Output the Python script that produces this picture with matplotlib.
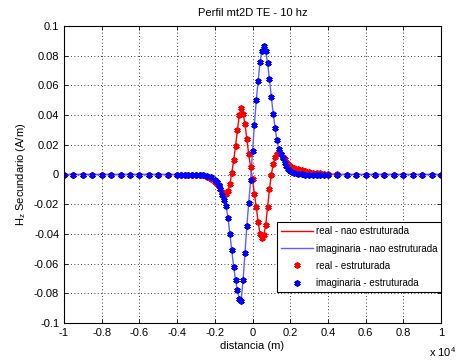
import matplotlib
matplotlib.use("Agg")
import matplotlib.pyplot as plt
import numpy as np

plt.rcParams['font.family'] = ['Liberation Sans', 'DejaVu Sans']
plt.rcParams['mathtext.fontset'] = 'custom'
plt.rcParams['mathtext.rm'] = 'Liberation Sans'

# distancia (m) - nos da malha
x = [-10000, -9500, -9000, -8500, -8000, -7500, -7000, -6500, -6000, -5500, -5000, -4500,
     -4000, -3800, -3600, -3400, -3200, -3000, -2800, -2600, -2400, -2200,
     -2000, -1900, -1800, -1700, -1600, -1500, -1400, -1300, -1200, -1100,
     -1000, -900, -800, -700, -600, -500, -400, -300, -200, -100,
     0, 100, 200, 300, 400, 500, 600, 700, 800, 900,
     1000, 1100, 1200, 1300, 1400, 1500, 1600, 1700, 1800, 1900,
     2000, 2200, 2400, 2600, 2800, 3000, 3200, 3400, 3600, 3800,
     4000, 4500, 5000, 5500, 6000, 6500, 7000, 7500, 8000, 8500, 9000, 9500, 10000]

# parte real de Hz
hz_real = [0, 0, 0, 0, 0, 0, 0, 0, 0, 0, 0, 0,
           -0.0001, -0.0001, -0.0001, -0.0002, -0.0002, -0.0003, -0.0004, -0.0006, -0.0015, -0.003,
           -0.005, -0.0062, -0.0075, -0.0095, -0.0115, -0.0128, -0.0128, -0.011, -0.0065, 0.001,
           0.0095, 0.019, 0.030, 0.040, 0.0445, 0.041, 0.034, 0.024, 0.0135, 0.005,
           -0.003, -0.013, -0.022, -0.032, -0.040, -0.043, -0.041, -0.034, -0.022, -0.010,
           0.0, 0.007, 0.0115, 0.0138, 0.0143, 0.0135, 0.012, 0.0102, 0.0085, 0.007,
           0.0058, 0.0045, 0.0036, 0.0028, 0.0021, 0.0017, 0.0013, 0.001, 0.0007, 0.0005,
           0.0003, 0.0001, 0, 0, 0, 0, 0, 0, 0, 0, 0, 0, 0]

# parte imaginaria de Hz
hz_imag = [0, 0, 0, 0, 0, 0, 0, 0, 0, 0, 0, 0,
           0, 0, 0, 0, 0, -0.0001, -0.0002, -0.0005, -0.001, -0.002,
           -0.0035, -0.005, -0.007, -0.010, -0.0135, -0.0175, -0.0215, -0.029, -0.040, -0.051,
           -0.062, -0.071, -0.078, -0.084, -0.085, -0.071, -0.053, -0.035, -0.019, -0.004,
           0.0155, 0.033, 0.050, 0.063, 0.076, 0.083, 0.0865, 0.083, 0.075, 0.064,
           0.052, 0.041, 0.031, 0.023, 0.017, 0.0138, 0.011, 0.008, 0.0058, 0.004,
           0.0025, 0.0008, 0.0003, 0.0001, 0, 0, 0, 0, 0, 0,
           0, 0, 0, 0, 0, 0, 0, 0, 0, 0, 0, 0, 0]

xticks = [-10000, -8000, -6000, -4000, -2000, 0, 2000, 4000, 6000, 8000, 10000]
xticklabels = ['-1', '-0.8', '-0.6', '-0.4', '-0.2', '0', '0.2', '0.4', '0.6', '0.8', '1']
yticks = [-0.1, -0.08, -0.06, -0.04, -0.02, 0, 0.02, 0.04, 0.06, 0.08, 0.1]
yticklabels = ['-0.1', '-0.08', '-0.06', '-0.04', '-0.02', '0', '0.02', '0.04', '0.06', '0.08', '0.1']

fig = plt.figure(figsize=(4.72, 3.6), dpi=100)
ax = fig.add_axes([64 / 472, 1 - 323 / 360, (441 - 64) / 472, (323 - 26) / 360])

ax.plot(x, hz_real, color='red', lw=1.0, label='real - nao estruturada')
ax.plot(x, hz_imag, color='#6060ff', lw=1.0, label='imaginaria - nao estruturada')
ax.plot(x, hz_real, ls='none', marker=(6, 2, 0), ms=4.5, mew=1.3, color='red',
        label='real - estruturada')
ax.plot(x, hz_imag, ls='none', marker=(6, 2, 0), ms=4.5, mew=1.3, color='blue',
        label='imaginaria - estruturada')

ax.set_xlim(-10000, 10000)
ax.set_ylim(-0.1, 0.1)
ax.set_xticks(xticks)
ax.set_xticklabels(xticklabels)
ax.set_yticks(yticks)
ax.set_yticklabels(yticklabels)
ax.tick_params(direction='in', labelsize=8, length=3, width=0.6, top=True, right=True)
ax.grid(True, ls=(0, (1, 3)), color='black', lw=0.6)
for s in ax.spines.values():
    s.set_linewidth(0.8)

ax.set_title('Perfil mt2D TE - 10 hz', fontsize=8, pad=7)
ax.set_xlabel('distancia (m)', fontsize=8, labelpad=2)
ax.set_ylabel('H$_\\mathrm{z}$ Secundario (A/m)', fontsize=8, labelpad=4)
fig.text(443 / 472, 1 - 352 / 360, 'x 10$^4$', fontsize=8, ha='center', va='center')

leg = ax.legend(loc='lower right', bbox_to_anchor=(1.0, (323 - 292) / 297), borderaxespad=0,
                fontsize=7, fancybox=False, edgecolor='black', framealpha=1,
                handlelength=3.3, labelspacing=0.75, borderpad=0.4, handletextpad=0.3)
leg.get_frame().set_linewidth(0.8)

fig.savefig('out.png', dpi=100)
